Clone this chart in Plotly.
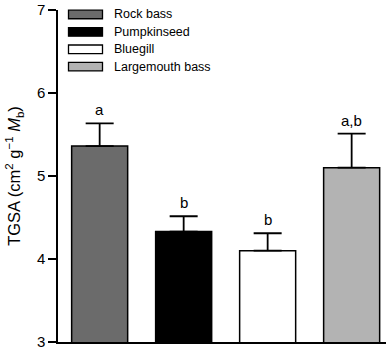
import plotly.graph_objects as go

species = ["Rock bass", "Pumpkinseed", "Bluegill", "Largemouth bass"]
tgsa = [5.36, 4.33, 4.10, 5.10]
sem = [0.275, 0.185, 0.21, 0.41]
letters = ["a", "b", "b", "a,b"]
colors = ["#6b6b6b", "#000000", "#ffffff", "#b3b3b3"]
y_ticks = [3, 4, 5, 6, 7]

W, H = 386, 350
ML, MR, MT, MB = 58, 0, 10, 6
pw, ph = W - ML - MR, H - MT - MB

fig = go.Figure()
fig.add_trace(go.Bar(
    x=list(range(len(species))), y=tgsa, base=0,
    marker=dict(color=colors, line=dict(color="black", width=1.5)),
    width=0.667,
    error_y=dict(type="data", array=sem, arrayminus=[0]*len(sem), symmetric=False,
                 color="black", thickness=1.8, width=14),
    showlegend=False, hoverinfo="skip",
))

# significance letters
for i, (v, e, t) in enumerate(zip(tgsa, sem, letters)):
    fig.add_annotation(x=i, y=v + e, text=t, showarrow=False, yanchor="bottom",
                       yshift=3, font=dict(size=15, color="black"))

# custom legend (boxes + labels)
def px_x(p):
    return (p - ML) / pw

def px_y(p):
    return (H - MB - p) / ph

row_y = [14.5, 32, 49.5, 67]
for name, c, yy in zip(species, colors, row_y):
    fig.add_shape(type="rect", xref="paper", yref="paper",
                  x0=px_x(68.5), x1=px_x(102.5), y0=px_y(yy + 4.3), y1=px_y(yy - 4.3),
                  fillcolor=c, line=dict(color="black", width=1.3))
    fig.add_annotation(xref="paper", yref="paper", x=px_x(112), y=px_y(yy),
                       xanchor="left", yanchor="middle", text=name, showarrow=False,
                       font=dict(size=12.5, color="black"))

fig.update_layout(
    width=W, height=H,
    margin=dict(l=ML, r=MR, t=MT, b=MB, pad=0),
    paper_bgcolor="white", plot_bgcolor="white",
    font=dict(family="Liberation Sans, Arial, sans-serif", color="black"),
    xaxis=dict(range=[-0.496, 3.409], showticklabels=False, ticks="", showgrid=False,
               zeroline=False, showline=True, linecolor="black", linewidth=1.5),
    yaxis=dict(range=[3, 7], tickvals=y_ticks, ticks="outside", ticklen=8, tickwidth=1.5,
               tickcolor="black", showgrid=False, zeroline=False, showline=True,
               linecolor="black", linewidth=1.5, tickfont=dict(size=15),
               ticklabeloverflow="allow",
               title=dict(text="TGSA (cm<sup>2</sup> g<sup>\u22121</sup> <i>M</i><sub>b</sub>)",
                          font=dict(size=16.5), standoff=12)),
)

fig.write_html("out.html")
